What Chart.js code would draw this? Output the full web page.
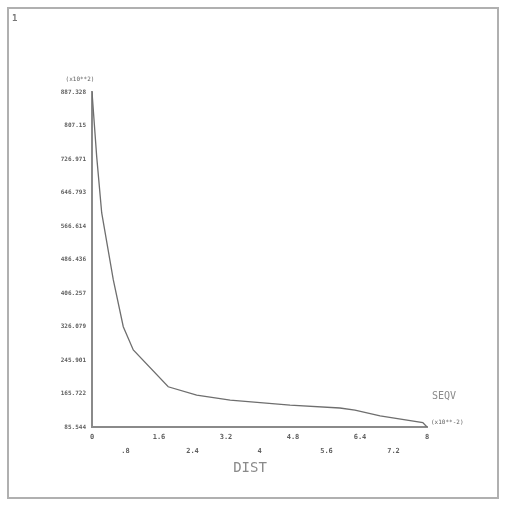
<!DOCTYPE html>
<html>
<head>
<meta charset="utf-8">
<script src="https://cdn.jsdelivr.net/npm/chart.js@4/dist/chart.umd.min.js"></script>
<style>
    html, body { margin: 0; padding: 0; background: #fff; }
    canvas { display: block; }
</style>
</head>
<body>
<canvas id="chart" width="506" height="506"></canvas>
<script>
// path distance along the model and the von Mises stress
const distValues = [0, 0.112, 0.232, 0.509, 0.747, 0.986, 1.82, 2.5, 3.3, 4.73, 5.92, 6.28, 6.88, 7.9, 8];
const seqvValues = [887.3, 732.6, 597.8, 437.5, 325.5, 270, 181.8, 162, 150, 138, 131, 126, 112, 96, 85.544];

// axis ticks
const xTickValues = [0, 0.8, 1.6, 2.4, 3.2, 4, 4.8, 5.6, 6.4, 7.2, 8];
const xTickLabels = ['0', '.8', '1.6', '2.4', '3.2', '4', '4.8', '5.6', '6.4', '7.2', '8'];
const yTickValues = [85.544, 165.722, 245.901, 326.079, 406.257, 486.436, 566.614, 646.793, 726.971, 807.15, 887.328];
const yTickLabels = ['85.544', '165.722', '245.901', '326.079', '406.257', '486.436', '566.614', '646.793', '726.971', '807.15', '887.328'];

const textColor = '#5e5e5e';
const monoFont = "'DejaVu Sans Mono', monospace";

// frame and the ANSYS-style annotations
const annotations = {
    id: 'annotations',
    afterDraw(chart) {
        let ctx = chart.ctx;
        let area = chart.chartArea;
        ctx.save();
        ctx.strokeStyle = '#b0b0b0';
        ctx.lineWidth = 2;
        ctx.strokeRect(8, 8, 490, 490);

        ctx.fillStyle = '#777';
        ctx.font = "bold 9px " + monoFont;
        ctx.textAlign = 'left';
        ctx.textBaseline = 'middle';
        ctx.fillText('1', 12, 19);

        ctx.fillStyle = textColor;
        ctx.font = "6px " + monoFont;
        ctx.textAlign = 'center';
        ctx.fillText('(x10**2)', area.left - 12, area.top - 13);

        ctx.textAlign = 'left';
        ctx.fillText('(x10**-2)', area.right + 4, area.bottom - 5);

        ctx.fillStyle = '#8a8a8a';
        ctx.font = "10px " + monoFont;
        ctx.fillText('SEQV', area.right + 5, area.bottom - 31);

        ctx.font = "14px " + monoFont;
        ctx.textAlign = 'center';
        ctx.fillText('DIST', 250, 468);
        ctx.restore();
    }
};

new Chart(document.getElementById('chart').getContext('2d'), {
    type: 'line',
    data: {
        datasets: [{
            data: distValues.map((d, i) => ({ x: d, y: seqvValues[i] })),
            borderColor: '#6e6e6e',
            borderWidth: 1.3,
            pointRadius: 0,
            tension: 0,
            fill: false
        }]
    },
    options: {
        responsive: false,
        animation: false,
        layout: { padding: { top: 92, right: 79, left: 0, bottom: 0 } },
        plugins: {
            legend: { display: false },
            tooltip: { enabled: false }
        },
        scales: {
            x: {
                type: 'linear',
                min: 0,
                max: 8,
                afterBuildTicks: (axis) => { axis.ticks = xTickValues.map(v => ({ value: v })); },
                afterFit: (axis) => { axis.height = 79; },
                grid: { display: false, drawTicks: false },
                border: { display: true, color: '#8a8a8a', width: 2 },
                ticks: {
                    autoSkip: false,
                    maxRotation: 0,
                    padding: 3,
                    color: textColor,
                    font: { family: monoFont, size: 7, weight: 'bold', lineHeight: 2 },
                    callback: (value, index) => index % 2 === 0 ? xTickLabels[index] : ['', xTickLabels[index]]
                }
            },
            y: {
                type: 'linear',
                min: 85.544,
                max: 887.328,
                afterBuildTicks: (axis) => { axis.ticks = yTickValues.map(v => ({ value: v })); },
                afterFit: (axis) => { axis.width = 92; },
                grid: { display: false, drawTicks: false },
                border: { display: true, color: '#8a8a8a', width: 2 },
                ticks: {
                    autoSkip: false,
                    padding: 6,
                    color: textColor,
                    font: { family: monoFont, size: 6, weight: 'bold' },
                    callback: (value, index) => yTickLabels[index]
                }
            }
        }
    },
    plugins: [annotations]
});
</script>
</body>
</html>
